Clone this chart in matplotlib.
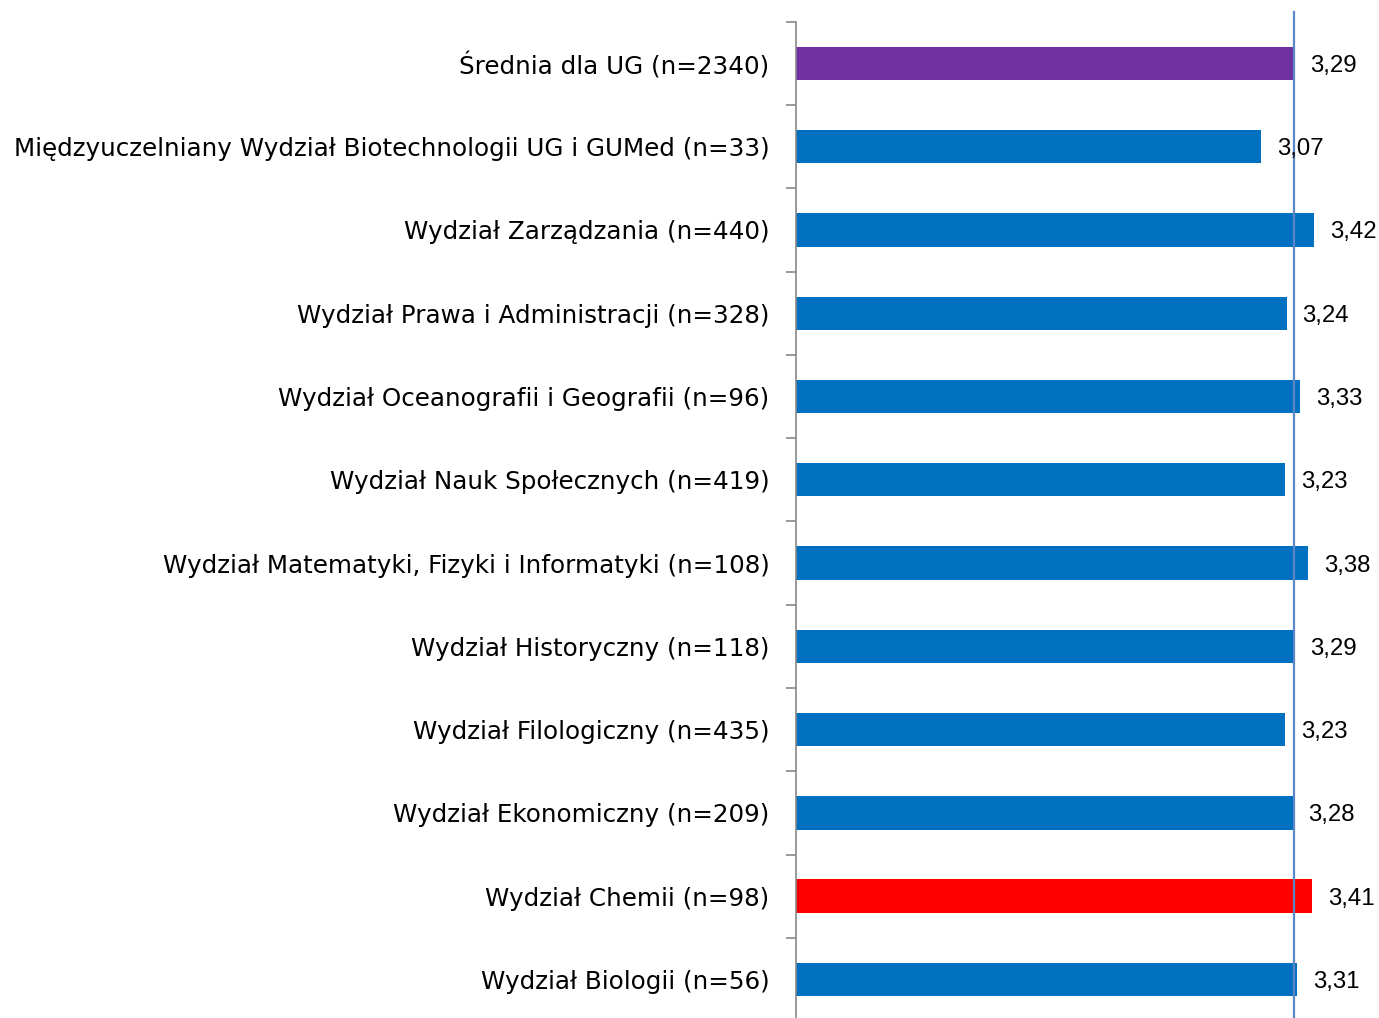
import numpy as np
import matplotlib.pyplot as plt
from matplotlib.ticker import FixedLocator

# Data (top to bottom as in the chart)
labels = [
    "Średnia dla UG (n=2340)",
    "Międzyuczelniany Wydział Biotechnologii UG i GUMed (n=33)",
    "Wydział Zarządzania (n=440)",
    "Wydział Prawa i Administracji (n=328)",
    "Wydział Oceanografii i Geografii (n=96)",
    "Wydział Nauk Społecznych (n=419)",
    "Wydział Matematyki, Fizyki i Informatyki (n=108)",
    "Wydział Historyczny (n=118)",
    "Wydział Filologiczny (n=435)",
    "Wydział Ekonomiczny (n=209)",
    "Wydział Chemii (n=98)",
    "Wydział Biologii (n=56)",
]
values = [3.29, 3.07, 3.42, 3.24, 3.33, 3.23, 3.38, 3.29, 3.23, 3.28, 3.41, 3.31]
colors = ["#7030A0"] + ["#0070C0"] * 9 + ["#FF0000", "#0070C0"]
average = 3.29

fig = plt.figure(figsize=(13.79, 10.18), dpi=100)
ax = fig.add_axes([796 / 1379, -0.003, 1 - 796 / 1379, 0.9816])

n = len(labels)
y = np.arange(n)[::-1]
ax.barh(y, values, height=0.4, color=colors)

# value labels with decimal comma
for yi, v in zip(y, values):
    ax.text(v + 0.105, yi, f"{v:.2f}".replace(".", ","), va="center_baseline", ha="left",
            fontsize=17.3, family="Liberation Sans")

# average line
ax.axvline(average, ymin=0, ymax=1.01, color="#5B87C8", linewidth=1.6, clip_on=False)

ax.set_xlim(0, 3.85)
ax.set_ylim(-0.5, n - 0.5)
ax.set_yticks(y)
ax.set_yticklabels(labels, fontsize=17.7, family="DejaVu Sans", va="center_baseline")
ax.tick_params(axis="y", which="major", length=0, pad=19)
ax.yaxis.set_minor_locator(FixedLocator(np.arange(-0.5, n, 1.0)))
ax.tick_params(axis="y", which="minor", length=7, width=1.2, color="#888888", direction="out")
ax.set_xticks([])

for side in ["top", "right", "bottom"]:
    ax.spines[side].set_visible(False)
ax.spines["left"].set_color("#888888")
ax.spines["left"].set_linewidth(1.2)

fig.savefig("out.png", dpi=100)
